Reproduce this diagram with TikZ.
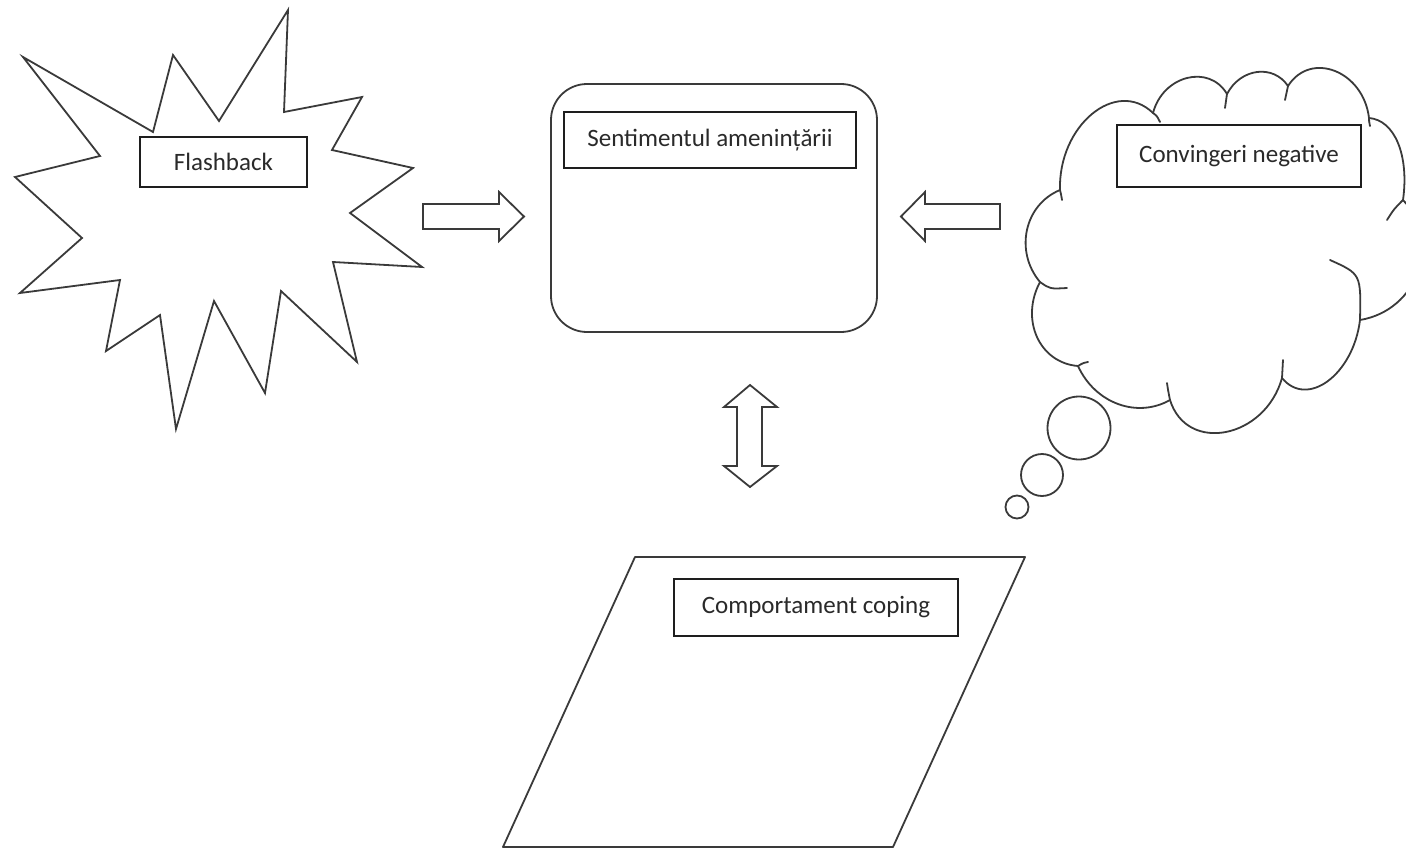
\documentclass[tikz,border=0pt]{standalone}
\usepackage{fontspec}
\setmainfont{Carlito}
\usetikzlibrary{calc}
\definecolor{ink}{HTML}{3A3A3A}
\definecolor{boxink}{HTML}{1E1E1E}
\definecolor{txt}{HTML}{2A2A2A}
\begin{document}
\begin{tikzpicture}[x=1pt,y=-1pt,
  shapeline/.style={draw=ink,line width=1.8pt},
  lbl/.style={draw=boxink,line width=1.4pt,fill=white,inner sep=0pt,
    text=txt,font=\fontsize{25pt}{30pt}\selectfont},
  blockarrow/.style={draw=ink,line width=1.8pt,fill=white,line join=miter},
  cloudline/.style={draw=ink,line width=1.8pt,line cap=round}]
\useasboundingbox (0,0) rectangle (1406,851);

% starburst behind the flashback label
\draw[shapeline,line join=miter]
  (23,57) -- (153,132) -- (173,55) -- (219,121) -- (288,10) -- (284,112)
  -- (362,97) -- (332,150) -- (413,168) -- (350,213) -- (422,267)
  -- (333,262) -- (357,362) -- (281,291) -- (265,393) -- (214,301)
  -- (176,429) -- (160,315) -- (106,351) -- (120,280) -- (20,293)
  -- (82,238) -- (15,177) -- (100,156) -- cycle;
\node[lbl,minimum width=167pt,minimum height=50pt] (flash) at (223.5,162) {Flashback};

% central rounded frame
\node[shapeline,rounded corners=36pt,minimum width=326pt,minimum height=248pt,inner sep=0pt]
  (threat) at (714,208) {};
\node[lbl,minimum width=292pt,minimum height=56pt] (threatlbl) at (710,140) {Sentimentul amenințării};

% parallelogram for coping behaviour
\coordinate (pa) at (635,557);
\coordinate (pb) at (1025,557);
\coordinate (pc) at (893,847);
\coordinate (pd) at (503,847);
\draw[shapeline,line join=round] (pa) -- (pb) -- (pc) -- (pd) -- cycle;
\node[lbl,minimum width=284pt,minimum height=57pt] (coping) at (816,607.5) {Comportament coping};

% cloud of negative beliefs: junctions j, puff apexes c
\coordinate (j1) at (1060,190);  \coordinate (c1) at (1092,114);
\coordinate (j2) at (1153,113);  \coordinate (c2) at (1187,78);
\coordinate (j3) at (1227,94);   \coordinate (c3) at (1257,72);
\coordinate (j4) at (1288,86);   \coordinate (c4) at (1335,71);
\coordinate (j5) at (1369,118);  \coordinate (c5) at (1398,143);
\coordinate (j6) at (1403,200);  \coordinate (c6) at (1418,272);
\coordinate (j7) at (1360,320);  \coordinate (c7) at (1328,381);
\coordinate (j8) at (1282,378);  \coordinate (c8) at (1226,432);
\coordinate (j9) at (1170,400);  \coordinate (c9) at (1118,404);
\coordinate (j10) at (1078,366); \coordinate (c10) at (1037,337);
\coordinate (j11) at (1040,282); \coordinate (c11) at (1027,230);
% each puff is a circular arc; \r is sagitta over half chord
\foreach \a/\c/\b/\r in {j1/c1/j2/0.66, j2/c2/j3/0.66, j3/c3/j4/0.55,
    j4/c4/j5/0.69, j5/c5/j6/0.38, j6/c6/j7/0.60, j7/c7/j8/0.62,
    j8/c8/j9/0.74, j9/c9/j10/0.43, j10/c10/j11/0.52, j11/c11/j1/0.51}
{
  \pgfmathsetmacro\ka{\r*\r/3}
  \pgfmathsetmacro\kb{(1+\r*\r)/3}
  \draw[cloudline] (\a) .. controls ($\ka*(\a)+1.3333*(\c)-\kb*(\b)$)
                           and ($\ka*(\b)+1.3333*(\c)-\kb*(\a)$) .. (\b);
}
% creases where the puffs meet
\draw[cloudline] (j1) .. controls (1061,194) .. (1062,200);
\draw[cloudline] (j2) .. controls (1157,116) .. (1160,122);
\draw[cloudline] (j3) .. controls (1226,101) .. (1225,108);
\draw[cloudline] (j4) .. controls (1286,93) .. (1285,100);
\draw[cloudline] (j5) .. controls (1369,121) .. (1370,126);
\draw[cloudline] (j6) .. controls (1394,209) .. (1387,220);
\draw[cloudline] (j7) .. controls (1361,274) .. (1330,260);
\draw[cloudline] (j8) .. controls (1283,369) .. (1283,360);
\draw[cloudline] (j9) .. controls (1168,390) .. (1167,383);
\draw[cloudline] (j10) .. controls (1083,363) .. (1088,362);
\draw[cloudline] (j11) .. controls (1050,289) .. (1067,288);
\node[lbl,minimum width=244pt,minimum height=62pt] (beliefs) at (1239,156) {Convingeri negative};

% thought bubbles
\node[shapeline,circle,minimum size=63pt,inner sep=0pt] (bubA) at (1079,428) {};
\node[shapeline,circle,minimum size=42pt,inner sep=0pt] (bubB) at (1042,475) {};
\node[shapeline,circle,minimum size=23pt,inner sep=0pt] (bubC) at (1017,507) {};

% block arrows
\draw[blockarrow] (423,204) -- (499,204) -- (499,192) -- (524,216.5) -- (499,241)
  -- (499,229) -- (423,229) -- cycle;
\draw[blockarrow] (1000,204) -- (925,204) -- (925,192) -- (901,216.5) -- (925,241)
  -- (925,229) -- (1000,229) -- cycle;
\draw[blockarrow] (750,385) -- (777,407) -- (762,407) -- (762,466) -- (777,466)
  -- (750,487) -- (724,466) -- (737,466) -- (737,407) -- (724,407) -- cycle;
\end{tikzpicture}
\end{document}
